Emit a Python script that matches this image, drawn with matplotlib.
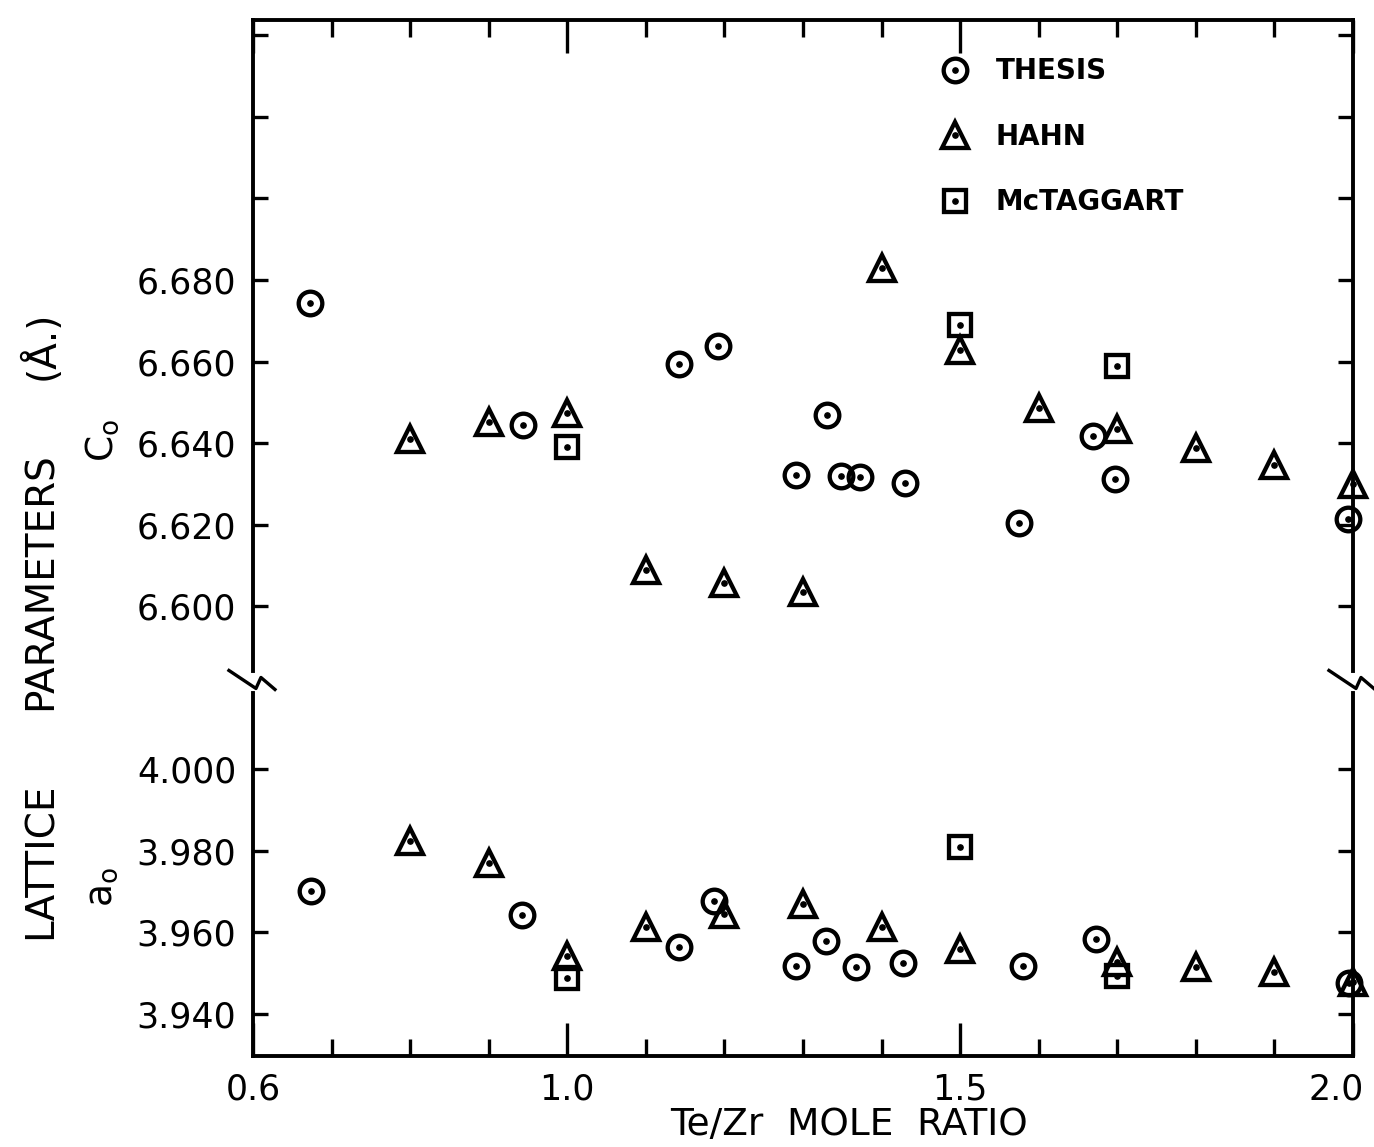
import matplotlib
matplotlib.use("Agg")
import matplotlib.pyplot as plt
import matplotlib.transforms as mtransforms
from matplotlib.legend_handler import HandlerTuple

# Te/Zr mole ratio vs lattice parameters (angstrom)
thesis_c_x = [0.673, 0.944, 1.142, 1.192, 1.291, 1.331, 1.348, 1.373, 1.430, 1.575, 1.669, 1.697, 1.994]
thesis_c = [6.6744, 6.6444, 6.6594, 6.6638, 6.6321, 6.6469, 6.6319, 6.6317, 6.6302, 6.6204, 6.6417, 6.6312, 6.6213]
thesis_a_x = [0.674, 0.942, 1.142, 1.187, 1.291, 1.329, 1.367, 1.427, 1.580, 1.673, 1.995]
thesis_a = [3.9701, 3.9642, 3.9563, 3.9676, 3.9517, 3.9578, 3.9514, 3.9524, 3.9517, 3.9583, 3.9475]

hahn_c_x = [0.8, 0.9, 1.0, 1.1, 1.2, 1.3, 1.4, 1.5, 1.6, 1.7, 1.8, 1.9, 2.0]
hahn_c = [6.6410, 6.6452, 6.6474, 6.6088, 6.6056, 6.6034, 6.6829, 6.6628, 6.6486, 6.6434, 6.6388, 6.6346, 6.6299]
hahn_a_x = [0.8, 0.9, 1.0, 1.1, 1.2, 1.3, 1.4, 1.5, 1.7, 1.8, 1.9, 2.0]
hahn_a = [3.9823, 3.9769, 3.9541, 3.9612, 3.9644, 3.9669, 3.9612, 3.9558, 3.9526, 3.9514, 3.9502, 3.9477]

mct_c_x = [1.0, 1.5, 1.7]
mct_c = [6.6390, 6.6690, 6.6589]
mct_a_x = [1.0, 1.5, 1.7]
mct_a = [3.9487, 3.9809, 3.9492]

c_ticks = [6.600, 6.620, 6.640, 6.660, 6.680]
a_ticks = [3.940, 3.960, 3.980, 4.000]
extra_ticks = [6.700, 6.720, 6.740]
x_major = [0.6, 1.0, 1.5, 2.0]
x_minor = [0.7, 0.8, 0.9, 1.1, 1.2, 1.3, 1.4, 1.6, 1.7, 1.8, 1.9]

# a-values are drawn below the break, shifted onto the same scale as c
A_SHIFT = 2.56
Y_BREAK = 6.5815
YLIM = (6.4896, 6.7438)

plt.rcParams['font.family'] = ['DejaVu Sans']

fig = plt.figure(figsize=(13.74, 11.47), dpi=100)
ax = fig.add_axes([0.1841, 0.0793, 0.8006, 0.9033])

def shift(vals):
	return [v + A_SHIFT for v in vals]

dot = dict(ls='none', marker='o', color='black', ms=3.8)

handles = []
for xs, cs, xa, aa, m, size in [(thesis_c_x, thesis_c, thesis_a_x, thesis_a, 'o', 17),
                                 (hahn_c_x, hahn_c, hahn_a_x, hahn_a, '^', 19),
                                 (mct_c_x, mct_c, mct_a_x, mct_a, 's', 16)]:
	mk = dict(ls='none', mfc='none', mec='black', ms=size, mew=3.1, marker=m, clip_on=False)
	h = ax.plot(xs, cs, **mk)[0]
	d = ax.plot(xs, cs, clip_on=False, **dot)[0]
	ax.plot(xa, shift(aa), **mk)
	ax.plot(xa, shift(aa), clip_on=False, **dot)
	handles.append((h, d))

ax.set_xlim(0.6, 2.0)
ax.set_ylim(*YLIM)

ax.set_xticks(x_major)
ax.set_xticklabels(['0.6', '1.0', '1.5', '2.0'])
ax.set_xticks(x_minor, minor=True)
yt = shift(a_ticks) + c_ticks + extra_ticks
ylabels = ['%.3f' % v for v in a_ticks] + ['%.3f' % v for v in c_ticks] + [''] * len(extra_ticks)
ax.set_yticks(yt)
ax.set_yticklabels(ylabels)

ax.tick_params(which='both', direction='in', top=True, right=True, width=2.4, labelsize=25)
ax.tick_params(axis='x', which='major', length=24, pad=12)
ax.tick_params(axis='x', which='minor', length=12)
ax.tick_params(axis='y', which='major', length=11, pad=12)

# keep "2.0" inside the figure like the original
last = ax.get_xticklabels()[-1]
last.set_transform(last.get_transform() + mtransforms.ScaledTranslation(-12 / 72, 0, fig.dpi_scale_trans))

for s in ['top', 'bottom']:
	ax.spines[s].set_linewidth(2.8)
ax.spines['left'].set_visible(False)
ax.spines['right'].set_visible(False)

# broken left/right axis with zigzag marks
yb = (Y_BREAK - YLIM[0]) / (YLIM[1] - YLIM[0])
fx = 1.0 / 1100
fy = 1.0 / 1036
for xa in [0.0, 1.0]:
	ax.plot([xa, xa], [0, yb - 12 * fy], color='black', lw=2.8, transform=ax.transAxes, clip_on=False)
	ax.plot([xa, xa], [yb + 10 * fy, 1], color='black', lw=2.8, transform=ax.transAxes, clip_on=False)
	zx = [-24, 3, 8, 22]
	zy = [11, -7, 4, -8]
	ax.plot([xa + v * fx for v in zx], [yb + v * fy for v in zy], color='black', lw=2.4,
	        transform=ax.transAxes, clip_on=False)

ax.legend(handles, ['THESIS', 'HAHN', 'McTAGGART'], loc='upper left', bbox_to_anchor=(0.626, 0.964),
          frameon=False, prop={'weight': 'bold', 'size': 20}, handlelength=1.0, handletextpad=0.95,
          labelspacing=1.35, borderpad=0, borderaxespad=0, numpoints=1,
          handler_map={tuple: HandlerTuple(ndivide=1)})

# axis titles
fig.text(0.0298, 0.2493, 'LATTICE', rotation=90, fontsize=28, ha='center', va='center')
fig.text(0.0298, 0.4935, 'PARAMETERS', rotation=90, fontsize=28, ha='center', va='center')
fig.text(0.0298, 0.699, '(Å.)', rotation=90, fontsize=28, ha='center', va='center')
fig.text(0.0745, 0.616, r'C$_\mathregular{o}$', rotation=90, fontsize=27, ha='center', va='center')
fig.text(0.0745, 0.227, r'a$_\mathregular{o}$', rotation=90, fontsize=27, ha='center', va='center')
fig.text(0.618, 0.019, 'Te/Zr  MOLE  RATIO', fontsize=27, ha='center', va='center')

fig.savefig('out.png', dpi=100, facecolor='white')
